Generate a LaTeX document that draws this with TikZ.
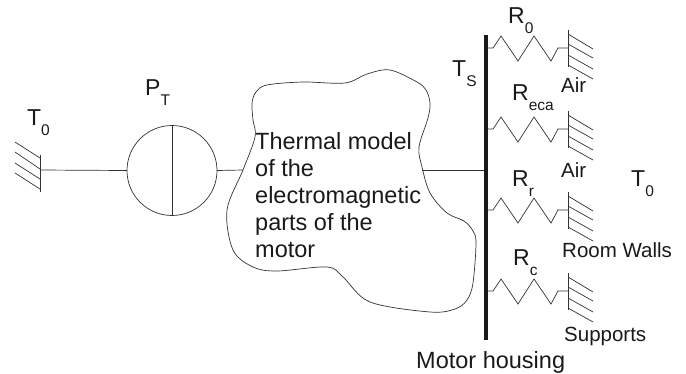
\documentclass[tikz,border=0pt]{standalone}
\usepackage{fontspec}
\setmainfont{Liberation Sans}
\newcommand{\sublabel}[2]{\fontsize{23}{24}\selectfont #1\raisebox{-10pt}{\fontsize{15.5}{15}\selectfont #2}}
\tikzset{
	hatch/.style={line width=0.7pt,draw=black!80},
	label text/.style={inner sep=0,anchor=base west,text=black!90},
	small text/.style={label text,font=\fontsize{20.5}{24}\selectfont},
	big text/.style={label text,font=\fontsize{23.5}{27}\selectfont},
	spring/.style={to path={-- ++(7,0) -- ++(8,-12) -- ++(17,25) -- ++(16,-25)
		-- ++(17,25) -- ++(7,-13) -- (\tikztotarget)}},
	wallright/.pic={
		\draw[hatch] (0,-18) -- (0,19);
		\draw[hatch] (0,-14) -- (25,1);
		\draw[hatch] (0,-4) -- (25,10);
		\draw[hatch] (0,7) -- (25,21);
		\draw[hatch] (0,17) -- (25,31);
	},
	wallleft/.pic={
		\draw[hatch] (0,-15) -- (0,22);
		\draw[hatch] (0,-12) -- (-25,-28);
		\draw[hatch] (0,-1) -- (-25,-18);
		\draw[hatch] (0,9) -- (-25,-7);
		\draw[hatch] (0,19) -- (-25,3);
	}
}

\begin{document}
\begin{tikzpicture}[x=1pt,y=-1pt]
	\useasboundingbox (0,0) rectangle (686,373);

	% create the nodes
	\node (pump) at (172,170.5) [circle,draw=black!80,line width=0.7pt,
		minimum size=90pt,inner sep=0,outer sep=0] {};
	\node (model) at (255,132) [anchor=north west,inner sep=0,align=left,
		text=black!90,font=\fontsize{23.5}{27}\selectfont]
		{Thermal model\\of the\\electromagnetic\\parts of the\\motor};
	\node (tleft) at (27,125) [label text] {\sublabel{T}{0}};
	\node (ptlabel) at (145,95) [label text] {\sublabel{P}{T}};
	\node (tslabel) at (452,76) [label text] {\sublabel{T}{S}};
	\node (rzero) at (508,23) [label text] {\sublabel{R}{0}};
	\node (reca) at (512,100) [label text] {\sublabel{R}{eca}};
	\node (rr) at (512,186) [label text] {\sublabel{R}{r}};
	\node (rc) at (513,265) [label text] {\sublabel{R}{c}};
	\node (tright) at (631,186) [label text] {\sublabel{T}{0}};
	\node (airone) at (561,92) [small text] {Air};
	\node (airtwo) at (561,177) [small text] {Air};
	\node (room) at (562,257) [small text] {Room Walls};
	\node (supports) at (564,341) [small text] {Supports};
	\node (housing) at (416,368) [big text] {Motor housing};

	% create the end points
	\coordinate (wallzero) at (40,170);
	\coordinate (blobwest) at (243,170);
	\coordinate (blobeast) at (422,170);
	\coordinate (bartop) at (486,35);
	\coordinate (barbottom) at (486,340);
	\coordinate (barmiddle) at (486,170);
	\coordinate (barone) at (486,48);
	\coordinate (bartwo) at (486,129);
	\coordinate (barthree) at (486,210);
	\coordinate (barfour) at (486,291);
	\coordinate (wallone) at (568,48);
	\coordinate (walltwo) at (568,129);
	\coordinate (wallthree) at (568,210);
	\coordinate (wallfour) at (568,291);

	% the outline of the model
	\draw[hatch] plot[smooth cycle,tension=0.55] coordinates {
		(252,103) (253,120) (255,137) (243,170) (227,210) (233,250) (253,267)
		(277,271) (327,267) (343,277) (370,302) (430,312) (455,309) (467,300)
		(473,283) (476,243) (473,231) (464,221) (447,213) (430,193) (422,167)
		(419,147) (428,118) (430,103) (426,90) (417,82) (390,70) (367,74)
		(345,83) (303,82) (267,85) (256,92)};

	% the walls
	\pic at (wallzero) {wallleft};
	\pic at (wallone) {wallright};
	\pic at (walltwo) {wallright};
	\pic at (wallthree) {wallright};
	\pic at (wallfour) {wallright};

	% connect the nodes
	\draw[hatch] (pump.north) -- (pump.south);
	\draw[hatch] (wallzero) -- (pump.west);
	\draw[hatch] (pump.east) -- (blobwest);
	\draw[hatch] (blobeast) -- (barmiddle);
	\draw[hatch] (barone) to[spring] (wallone);
	\draw[hatch] (bartwo) to[spring] (walltwo);
	\draw[hatch] (barthree) to[spring] (wallthree);
	\draw[hatch] (barfour) to[spring] (wallfour);
	\draw[line width=4.5pt,draw=black!90] (bartop) -- (barbottom);
\end{tikzpicture}
\end{document}
